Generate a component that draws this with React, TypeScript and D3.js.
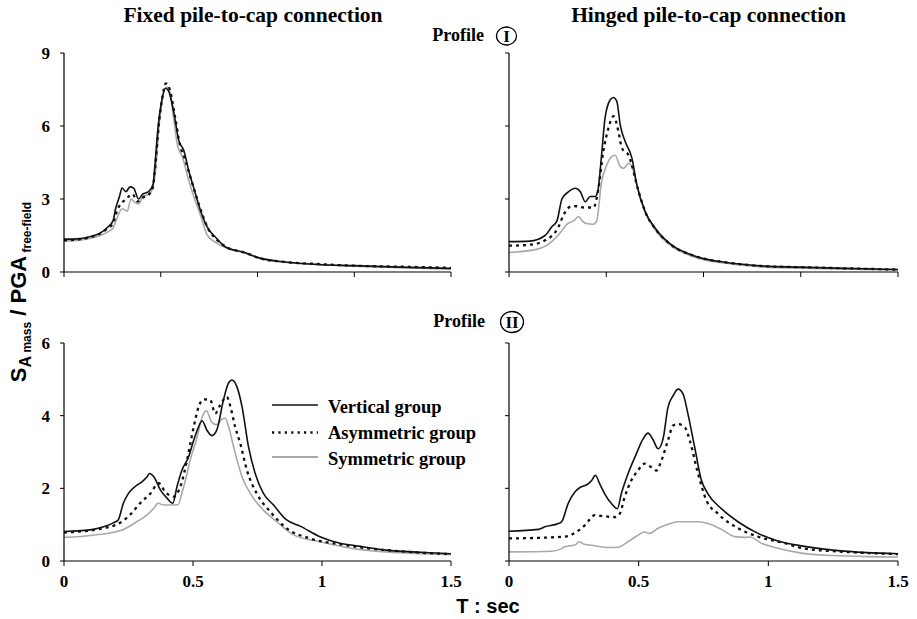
import React from "react";
import * as d3 from "d3";

type Pt = [number, number];

// Axis ticks
const yTicksProfileI = [0, 3, 6, 9];
const yTicksProfileII = [0, 2, 4, 6];
const xTickLabels = [0, 0.5, 1, 1.5];
const xTicksProfileI = [0, 0.375, 0.75, 1.125, 1.5];

const legendNames = ["Vertical group", "Asymmetric group", "Symmetric group"];
const columnTitles = ["Fixed pile-to-cap connection", "Hinged pile-to-cap connection"];

// Fixed connection, profile I  — [T (sec), SA/PGA]
const fixedI_vertical: Pt[] = [
  [0, 1.35], [0.05, 1.36], [0.1, 1.45], [0.14, 1.6], [0.17, 1.85], [0.19, 2.1], [0.2, 2.6],
  [0.215, 3.1], [0.225, 3.45], [0.24, 3.3], [0.256, 3.5], [0.27, 3.45], [0.289, 3.0],
  [0.305, 3.2], [0.328, 3.3], [0.345, 3.6], [0.354, 4.6], [0.365, 6.0], [0.378, 7.0],
  [0.393, 7.55], [0.405, 7.45], [0.425, 6.6], [0.445, 5.4], [0.464, 5.0], [0.485, 4.1],
  [0.503, 3.45], [0.53, 2.5], [0.555, 1.85], [0.59, 1.4], [0.626, 1.03], [0.7, 0.8],
  [0.76, 0.57], [0.85, 0.42], [1.0, 0.3], [1.12, 0.26], [1.3, 0.2], [1.5, 0.15],
];
const fixedI_asymmetric: Pt[] = [
  [0, 1.3], [0.05, 1.33], [0.1, 1.42], [0.14, 1.58], [0.17, 1.8], [0.19, 2.0], [0.205, 2.5],
  [0.22, 2.8], [0.235, 2.95], [0.25, 3.1], [0.265, 3.2], [0.285, 2.9], [0.305, 3.05],
  [0.33, 3.2], [0.345, 3.5], [0.355, 4.5], [0.367, 6.0], [0.38, 7.1], [0.395, 7.75],
  [0.41, 7.5], [0.43, 6.4], [0.45, 5.2], [0.47, 4.6], [0.49, 3.9], [0.51, 3.2], [0.535, 2.4],
  [0.56, 1.75], [0.59, 1.35], [0.63, 1.02], [0.7, 0.8], [0.76, 0.56], [0.85, 0.42],
  [1.0, 0.32], [1.12, 0.26], [1.3, 0.22], [1.5, 0.17],
];
const fixedI_symmetric: Pt[] = [
  [0, 1.28], [0.05, 1.3], [0.1, 1.38], [0.14, 1.5], [0.17, 1.65], [0.19, 1.8], [0.205, 2.2],
  [0.225, 2.6], [0.245, 2.5], [0.26, 3.0], [0.275, 2.85], [0.29, 2.8], [0.305, 3.1],
  [0.33, 3.2], [0.345, 3.5], [0.355, 4.2], [0.37, 6.2], [0.38, 7.0], [0.397, 7.6],
  [0.41, 7.4], [0.425, 6.3], [0.44, 5.2], [0.46, 4.7], [0.48, 3.9], [0.5, 3.2], [0.53, 2.3],
  [0.555, 1.52], [0.59, 1.2], [0.63, 1.0], [0.7, 0.78], [0.76, 0.55], [0.85, 0.4],
  [1.0, 0.3], [1.12, 0.24], [1.3, 0.18], [1.5, 0.12],
];

// Hinged connection, profile I
const hingedI_vertical: Pt[] = [
  [0, 1.25], [0.08, 1.27], [0.139, 1.5], [0.165, 1.86], [0.185, 2.1], [0.204, 3.0],
  [0.23, 3.3], [0.255, 3.44], [0.275, 3.3], [0.294, 2.89], [0.313, 3.1], [0.332, 3.1],
  [0.342, 3.3], [0.357, 4.8], [0.37, 6.3], [0.39, 7.07], [0.403, 7.17], [0.416, 7.0],
  [0.429, 6.04], [0.448, 5.36], [0.474, 4.68], [0.493, 3.58], [0.525, 2.48], [0.564, 1.8],
  [0.635, 1.05], [0.705, 0.7], [0.75, 0.55], [0.82, 0.42], [0.987, 0.24], [1.12, 0.2],
  [1.3, 0.15], [1.5, 0.1],
];
const hingedI_asymmetric: Pt[] = [
  [0, 1.08], [0.08, 1.12], [0.139, 1.3], [0.191, 1.86], [0.21, 2.34], [0.243, 2.71],
  [0.265, 2.7], [0.288, 2.65], [0.326, 2.65], [0.345, 3.45], [0.363, 4.9], [0.383, 5.9],
  [0.403, 6.4], [0.422, 5.77], [0.435, 5.1], [0.461, 4.8], [0.5, 3.3], [0.525, 2.48],
  [0.564, 1.78], [0.635, 1.04], [0.705, 0.7], [0.75, 0.55], [0.82, 0.42], [0.987, 0.24],
  [1.12, 0.2], [1.3, 0.15], [1.5, 0.1],
];
const hingedI_symmetric: Pt[] = [
  [0, 0.8], [0.113, 0.95], [0.165, 1.25], [0.197, 1.6], [0.223, 1.96], [0.249, 2.1],
  [0.269, 2.28], [0.282, 2.1], [0.301, 1.98], [0.325, 1.96], [0.338, 2.1], [0.357, 3.7],
  [0.377, 4.4], [0.396, 4.74], [0.409, 4.8], [0.429, 4.33], [0.442, 4.26], [0.461, 4.47],
  [0.474, 4.33], [0.493, 3.58], [0.51, 2.9], [0.53, 2.35], [0.564, 1.72], [0.635, 1.0],
  [0.705, 0.65], [0.75, 0.5], [0.82, 0.38], [0.987, 0.2], [1.12, 0.16], [1.3, 0.12],
  [1.5, 0.08],
];

// Fixed connection, profile II
const fixedII_vertical: Pt[] = [
  [0, 0.81], [0.114, 0.87], [0.153, 0.94], [0.191, 1.05], [0.21, 1.13], [0.23, 1.59],
  [0.25, 1.86], [0.276, 2.05], [0.302, 2.18], [0.322, 2.32], [0.332, 2.41], [0.348, 2.32],
  [0.374, 1.95], [0.399, 1.73], [0.422, 1.59], [0.438, 2.05], [0.457, 2.5], [0.483, 2.87],
  [0.503, 3.33], [0.522, 3.7], [0.535, 3.86], [0.554, 3.6], [0.573, 3.45], [0.592, 3.6],
  [0.618, 4.43], [0.637, 4.89], [0.651, 4.98], [0.67, 4.8], [0.69, 4.25], [0.715, 3.15],
  [0.741, 2.41], [0.773, 1.86], [0.812, 1.54], [0.863, 1.13], [0.915, 0.96], [0.992, 0.67],
  [1.07, 0.49], [1.141, 0.41], [1.25, 0.3], [1.38, 0.24], [1.5, 0.2],
];
const fixedII_asymmetric: Pt[] = [
  [0, 0.78], [0.178, 0.94], [0.217, 1.05], [0.256, 1.27], [0.295, 1.59], [0.335, 1.86],
  [0.367, 2.14], [0.393, 1.9], [0.425, 1.77], [0.451, 2.05], [0.477, 2.78], [0.503, 3.7],
  [0.522, 4.25], [0.541, 4.45], [0.567, 4.43], [0.586, 4.06], [0.606, 4.3], [0.631, 4.52],
  [0.645, 4.25], [0.663, 3.7], [0.683, 3.24], [0.709, 2.5], [0.747, 1.86], [0.799, 1.36],
  [0.863, 0.9], [0.954, 0.62], [1.07, 0.46], [1.141, 0.38], [1.25, 0.3], [1.38, 0.23],
  [1.5, 0.19],
];
const fixedII_symmetric: Pt[] = [
  [0, 0.65], [0.114, 0.71], [0.217, 0.83], [0.282, 1.08], [0.322, 1.27], [0.348, 1.45],
  [0.364, 1.59], [0.387, 1.54], [0.442, 1.55], [0.458, 1.9], [0.474, 2.32], [0.49, 2.8],
  [0.513, 3.33], [0.535, 3.95], [0.552, 4.14], [0.57, 3.85], [0.59, 3.75], [0.612, 3.9],
  [0.625, 3.93], [0.638, 3.7], [0.657, 3.15], [0.69, 2.32], [0.722, 1.86], [0.773, 1.4],
  [0.825, 1.08], [0.889, 0.72], [0.992, 0.53], [1.141, 0.32], [1.25, 0.25], [1.38, 0.2],
  [1.5, 0.17],
];

// Hinged connection, profile II
const hingedII_vertical: Pt[] = [
  [0, 0.82], [0.113, 0.87], [0.138, 0.94], [0.19, 1.03], [0.203, 1.08], [0.228, 1.58],
  [0.254, 1.9], [0.273, 2.02], [0.305, 2.12], [0.318, 2.21], [0.333, 2.36], [0.35, 2.12],
  [0.369, 1.85], [0.395, 1.58], [0.418, 1.44], [0.433, 1.85], [0.459, 2.4], [0.491, 2.95],
  [0.517, 3.36], [0.536, 3.52], [0.556, 3.33], [0.575, 3.09], [0.594, 3.36], [0.613, 4.23],
  [0.633, 4.55], [0.652, 4.73], [0.671, 4.6], [0.69, 4.05], [0.716, 3.13], [0.742, 2.22],
  [0.767, 1.85], [0.819, 1.44], [0.883, 1.08], [0.96, 0.76], [1.037, 0.55], [1.133, 0.41],
  [1.25, 0.3], [1.38, 0.23], [1.5, 0.2],
];
const hingedII_asymmetric: Pt[] = [
  [0, 0.62], [0.215, 0.67], [0.26, 0.8], [0.292, 0.98], [0.331, 1.26], [0.356, 1.24],
  [0.408, 1.21], [0.427, 1.3], [0.446, 1.76], [0.472, 2.22], [0.497, 2.49], [0.523, 2.68],
  [0.549, 2.58], [0.568, 2.49], [0.588, 2.77], [0.613, 3.32], [0.633, 3.73], [0.652, 3.77],
  [0.678, 3.68], [0.697, 3.32], [0.729, 2.4], [0.761, 1.67], [0.806, 1.3], [0.883, 0.9],
  [0.96, 0.67], [1.063, 0.49], [1.133, 0.35], [1.25, 0.27], [1.38, 0.22], [1.5, 0.19],
];
const hingedII_symmetric: Pt[] = [
  [0, 0.25], [0.164, 0.27], [0.197, 0.32], [0.215, 0.39], [0.254, 0.44], [0.27, 0.53],
  [0.287, 0.47], [0.331, 0.42], [0.382, 0.37], [0.421, 0.38], [0.459, 0.53], [0.497, 0.71],
  [0.523, 0.8], [0.542, 0.76], [0.575, 0.9], [0.613, 1.01], [0.652, 1.08], [0.729, 1.08],
  [0.767, 1.03], [0.819, 0.87], [0.871, 0.67], [0.909, 0.65], [0.928, 0.66], [0.973, 0.49],
  [1.037, 0.35], [1.133, 0.21], [1.25, 0.15], [1.38, 0.12], [1.5, 0.11],
];

const SERIF = "'Liberation Serif', 'Times New Roman', serif";
const SANS = "'Liberation Sans', Arial, sans-serif";

const seriesStyles = [
  { stroke: "#111", width: 1.6, dash: undefined as string | undefined },
  { stroke: "#111", width: 2.3, dash: "3 4" },
  { stroke: "#a9a9a9", width: 1.6, dash: undefined as string | undefined },
];

type PanelDef = {
  left: number;
  right: number;
  top: number;
  bottom: number;
  yMax: number;
  yTicks: number[];
  xTicks: number[];
  xLabels: boolean;
  yLabels: boolean;
  series: Pt[][];
};

const panels: PanelDef[] = [
  { left: 64, right: 451, top: 53, bottom: 272, yMax: 9, yTicks: yTicksProfileI, xTicks: xTicksProfileI, xLabels: false, yLabels: true, series: [fixedI_vertical, fixedI_asymmetric, fixedI_symmetric] },
  { left: 509, right: 898, top: 53, bottom: 272, yMax: 9, yTicks: yTicksProfileI, xTicks: xTicksProfileI, xLabels: false, yLabels: false, series: [hingedI_vertical, hingedI_asymmetric, hingedI_symmetric] },
  { left: 64, right: 451, top: 343, bottom: 561, yMax: 6, yTicks: yTicksProfileII, xTicks: xTickLabels, xLabels: true, yLabels: true, series: [fixedII_vertical, fixedII_asymmetric, fixedII_symmetric] },
  { left: 509, right: 898, top: 343, bottom: 561, yMax: 6, yTicks: yTicksProfileII, xTicks: xTickLabels, xLabels: true, yLabels: false, series: [hingedII_vertical, hingedII_asymmetric, hingedII_symmetric] },
];

function Panel({ p }: { p: PanelDef }) {
  const x = d3.scaleLinear().domain([0, 1.5]).range([p.left, p.right]);
  const y = d3.scaleLinear().domain([0, p.yMax]).range([p.bottom, p.top]);
  const line = d3
    .line<Pt>()
    .x((d) => x(d[0]))
    .y((d) => y(d[1]))
    .curve(d3.curveMonotoneX);
  const order = [2, 1, 0];
  return (
    <g>
      {order.map((i) => (
        <path
          key={i}
          d={line(p.series[i]) || ""}
          fill="none"
          stroke={seriesStyles[i].stroke}
          strokeWidth={seriesStyles[i].width}
          strokeDasharray={seriesStyles[i].dash}
          strokeLinejoin="round"
        />
      ))}
      <line x1={p.left} x2={p.left} y1={y(p.yMax)} y2={p.bottom} stroke="#000" strokeWidth={1.2} />
      <line x1={p.left} x2={x(1.5)} y1={p.bottom} y2={p.bottom} stroke="#000" strokeWidth={1.2} />
      {p.yTicks.map((t) => (
        <g key={"y" + t}>
          <line x1={p.left - 4} x2={p.left} y1={y(t)} y2={y(t)} stroke="#000" strokeWidth={1} />
          {p.yLabels && (
            <text x={p.left - 14} y={y(t) + 6} textAnchor="end" fontFamily={SERIF} fontWeight="bold" fontSize={17}>
              {t}
            </text>
          )}
        </g>
      ))}
      {p.xTicks.map((t) => (
        <g key={"x" + t}>
          <line x1={x(t)} x2={x(t)} y1={p.bottom} y2={p.bottom + 5} stroke="#000" strokeWidth={1} />
          {p.xLabels && (
            <text x={x(t)} y={p.bottom + 26} textAnchor="middle" fontFamily={SERIF} fontWeight="bold" fontSize={17}>
              {t}
            </text>
          )}
        </g>
      ))}
    </g>
  );
}

export default function App() {
  const legendY = [405, 431, 457];
  return (
    <svg
      width={917}
      height={619}
      viewBox="0 0 917 619"
      style={{ position: "absolute", left: 0, top: 0, background: "#fff" }}
    >
      <rect x={0} y={0} width={917} height={619} fill="#fff" />
      <text x={253} y={22} textAnchor="middle" fontFamily={SERIF} fontWeight="bold" fontSize={21.5}>
        {columnTitles[0]}
      </text>
      <text x={708.5} y={22} textAnchor="middle" fontFamily={SERIF} fontWeight="bold" fontSize={21.5}>
        {columnTitles[1]}
      </text>

      {/* profile markers */}
      <text x={484} y={41} textAnchor="end" fontFamily={SERIF} fontWeight="bold" fontSize={18}>
        Profile
      </text>
      <ellipse cx={506.5} cy={36} rx={10} ry={9} fill="none" stroke="#000" strokeWidth={1.3} />
      <text x={506.5} y={42} textAnchor="middle" fontFamily={SERIF} fontWeight="bold" fontSize={17}>
        I
      </text>
      <text x={485} y={327} textAnchor="end" fontFamily={SERIF} fontWeight="bold" fontSize={18}>
        Profile
      </text>
      <ellipse cx={512} cy={322} rx={11.5} ry={10.5} fill="none" stroke="#000" strokeWidth={1.3} />
      <text x={512} y={328} textAnchor="middle" fontFamily={SERIF} fontWeight="bold" fontSize={17}>
        II
      </text>

      {panels.map((p, i) => (
        <Panel key={i} p={p} />
      ))}

      {/* legend */}
      <line x1={272} x2={318} y1={legendY[0]} y2={legendY[0]} stroke="#111" strokeWidth={1.6} />
      <line x1={272} x2={318} y1={legendY[1] + 1.5} y2={legendY[1] + 1.5} stroke="#111" strokeWidth={2.4} strokeDasharray="2.2 4.2" />
      <line x1={272} x2={318} y1={legendY[2]} y2={legendY[2]} stroke="#a9a9a9" strokeWidth={2} />
      {legendNames.map((n, i) => (
        <text key={n} x={328} y={legendY[i] + 8} fontFamily={SERIF} fontWeight="bold" fontSize={18.5}>
          {n}
        </text>
      ))}

      {/* axis titles */}
      <text
        transform="translate(26,292) rotate(-90)"
        textAnchor="middle"
        fontFamily={SANS}
        fontWeight="bold"
        fontSize={22}
      >
        <tspan>S</tspan>
        <tspan fontSize={16} dy={5}>A</tspan>
        <tspan fontSize={12}> mass</tspan>
        <tspan fontSize={22} dy={-5}> / PGA</tspan>
        <tspan fontSize={12} dy={5}> free-field</tspan>
      </text>
      <text x={488} y={613} textAnchor="middle" fontFamily={SANS} fontWeight="bold" fontSize={20}>
        T : sec
      </text>
    </svg>
  );
}
